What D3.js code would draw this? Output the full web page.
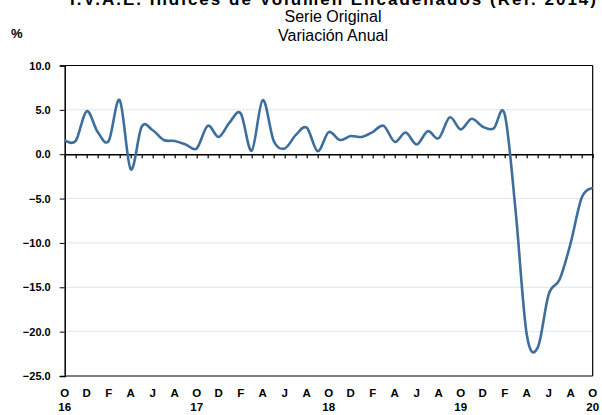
<!DOCTYPE html>
<html><head><meta charset="utf-8">
<script src="https://cdn.jsdelivr.net/npm/d3@7"></script>
<style>
body{margin:0;background:#fff;}
svg{display:block;font-family:"Liberation Sans",Arial,sans-serif;}
</style></head>
<body><svg id="c" width="602" height="415"></svg>
<script>
const monthLetters = ["O","D","F","A","J","A","O","D","F","A","J","A","O","D","F","A","J","A","O","D","F","A","J","A","O"];
const yearLabels = ["16","17","18","19","20"];
const values = [1.6,1.5,4.85,2.5,1.5,6.1,-1.7,3.1,2.7,1.6,1.5,1.1,
  0.65,3.2,1.95,3.6,4.6,0.4,6.1,1.5,0.65,2.15,3.0,0.35,
  2.5,1.6,2.05,1.95,2.5,3.2,1.4,2.45,1.1,2.6,1.8,4.15,
  2.8,4.0,3.1,2.9,4.5,-6.5,-20.3,-21.8,-15.8,-14.1,-10.0,-4.9,
  -3.8];
const yTicks = [10,5,0,-5,-10,-15,-20,-25];
const gridTicks = [5,-5,-10,-15,-20];

const svg = d3.select("#c");
const x = d3.scaleLinear().domain([0, values.length-1]).range([64.7, 592.7]);
const y = d3.scaleLinear().domain([-25,10]).range([376, 65.5]);

// titles
svg.append("text").attr("x",333).attr("y",5).attr("text-anchor","middle")
  .attr("font-weight","bold").attr("font-size",17).attr("textLength",526)
  .text("I.V.A.E. Índices de Volumen Encadenados (Ref. 2014)");
svg.append("text").attr("x",333).attr("y",22).attr("text-anchor","middle")
  .attr("font-size",16).text("Serie Original");
svg.append("text").attr("x",333).attr("y",41).attr("text-anchor","middle")
  .attr("font-size",16).text("Variación Anual");
svg.append("text").attr("x",11).attr("y",38)
  .attr("font-weight","bold").attr("font-size",13).text("%");

// grid
svg.append("g").selectAll("line").data(gridTicks).join("line")
  .attr("x1",x(0)).attr("x2",x(values.length-1))
  .attr("y1",d=>y(d)).attr("y2",d=>y(d))
  .attr("stroke","#dbe5f3").attr("stroke-width",1);

// frame top/right/bottom
const fr = svg.append("g").attr("stroke","#000").attr("stroke-width",1.2);
fr.append("line").attr("x1",x(0)).attr("x2",x(values.length-1)).attr("y1",y(10)).attr("y2",y(10));
fr.append("line").attr("x1",x(0)).attr("x2",x(values.length-1)).attr("y1",y(-25)).attr("y2",y(-25));
fr.append("line").attr("x1",x(values.length-1)).attr("x2",x(values.length-1)).attr("y1",y(10)).attr("y2",y(-25));

// left axis
const ya = svg.append("g").attr("transform",`translate(${x(0)},0)`)
  .call(d3.axisLeft(y).tickValues(yTicks).tickFormat(d3.format(".1f")).tickSize(5).tickPadding(9));
ya.select(".domain").attr("stroke","#000").attr("stroke-width",1.5);
ya.selectAll(".tick line").attr("stroke","#000");
ya.selectAll("text").attr("font-weight","bold").attr("font-size",11)
  .attr("font-family","Liberation Sans, Arial, sans-serif").attr("fill","#000");

// zero axis with monthly ticks
const xa = svg.append("g").attr("transform",`translate(0,${y(0)})`)
  .call(d3.axisBottom(x).tickValues(d3.range(values.length)).tickFormat("").tickSize(4).tickSizeOuter(0));
xa.select(".domain").attr("stroke","#000").attr("stroke-width",1.5);
xa.selectAll(".tick line").attr("stroke","#000").attr("stroke-width",1.2);

// bottom labels
const lab = svg.append("g").attr("font-weight","bold").attr("font-size",11.5).attr("text-anchor","middle");
lab.selectAll("text.m").data(monthLetters).join("text").attr("class","m")
  .attr("x",(d,i)=>x(i*2)).attr("y",397).text(d=>d);
lab.selectAll("text.yr").data(yearLabels).join("text").attr("class","yr")
  .attr("x",(d,i)=>x(i*12)).attr("y",411).text(d=>d);

// line
const line = d3.line().x((d,i)=>x(i)).y(d=>y(d)).curve(d3.curveCardinal.tension(0));
svg.append("path").datum(values).attr("d",line).attr("fill","none")
  .attr("stroke","#3e6e9c").attr("stroke-width",2.6).attr("stroke-linejoin","round");
</script></body></html>
